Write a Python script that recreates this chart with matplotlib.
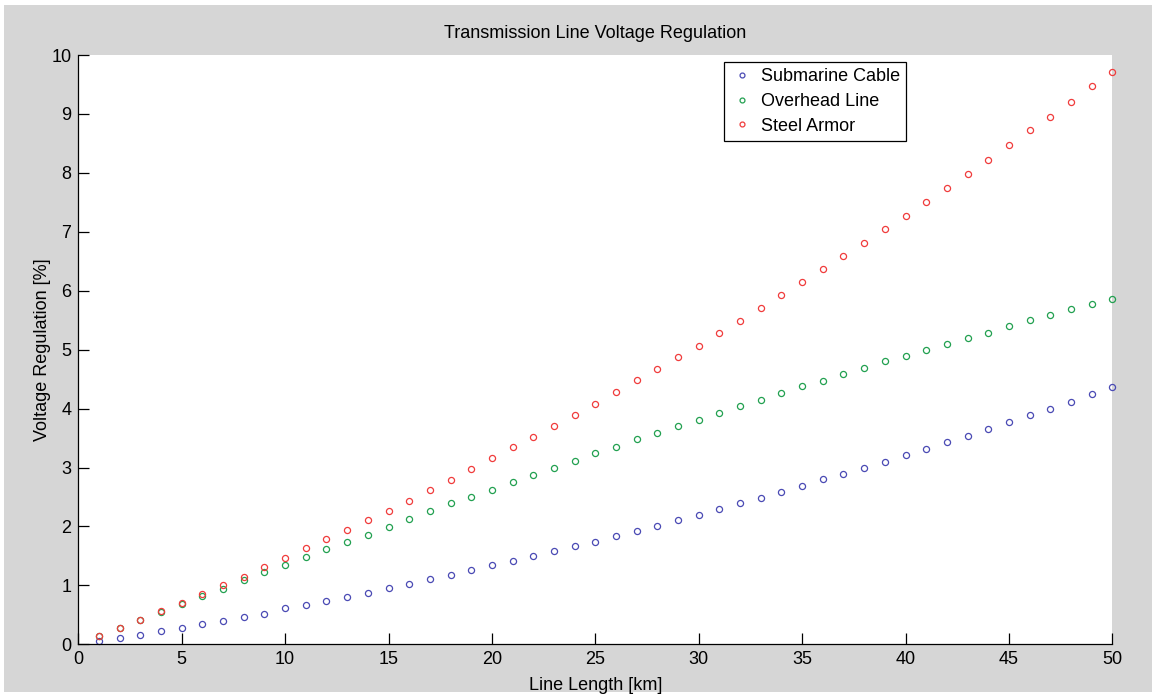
import matplotlib
matplotlib.use("Agg")
import matplotlib.pyplot as plt
from matplotlib.patches import Rectangle

# Line length in km
length_km = list(range(1, 51))

# Voltage regulation [%] per cable type
submarine_cable = [
    0.05, 0.10, 0.165, 0.23, 0.27, 0.34, 0.40, 0.47, 0.52, 0.61,
    0.67, 0.73, 0.81, 0.87, 0.95, 1.02, 1.10, 1.18, 1.26, 1.34,
    1.42, 1.50, 1.58, 1.66, 1.74, 1.83, 1.93, 2.01, 2.11, 2.20,
    2.29, 2.39, 2.48, 2.59, 2.69, 2.80, 2.89, 3.00, 3.10, 3.21,
    3.31, 3.43, 3.54, 3.65, 3.77, 3.89, 4.00, 4.12, 4.24, 4.37,
]
overhead_line = [
    0.14, 0.28, 0.41, 0.55, 0.68, 0.82, 0.94, 1.09, 1.22, 1.35,
    1.48, 1.61, 1.74, 1.86, 1.99, 2.13, 2.26, 2.39, 2.50, 2.62,
    2.75, 2.87, 3.00, 3.11, 3.24, 3.35, 3.48, 3.59, 3.70, 3.81,
    3.93, 4.04, 4.15, 4.27, 4.38, 4.47, 4.59, 4.69, 4.81, 4.90,
    5.00, 5.10, 5.20, 5.29, 5.40, 5.50, 5.59, 5.69, 5.77, 5.86,
]
steel_armor = [
    0.14, 0.28, 0.42, 0.56, 0.70, 0.85, 1.00, 1.15, 1.31, 1.47,
    1.63, 1.78, 1.94, 2.11, 2.27, 2.44, 2.61, 2.79, 2.98, 3.16,
    3.34, 3.52, 3.70, 3.89, 4.08, 4.28, 4.48, 4.68, 4.87, 5.07,
    5.29, 5.49, 5.70, 5.93, 6.15, 6.37, 6.59, 6.81, 7.04, 7.27,
    7.50, 7.74, 7.98, 8.21, 8.47, 8.72, 8.95, 9.21, 9.47, 9.72,
]

series_names = ["Submarine Cable", "Overhead Line", "Steel Armor"]
series_colors = ["#4a4ab4", "#22a050", "#f03c3c"]
x_ticks = list(range(0, 51, 5))
y_ticks = list(range(0, 11))

plt.rcParams["font.family"] = ["Liberation Sans", "DejaVu Sans"]

W, H = 1152, 697
fig = plt.figure(figsize=(W / 100, H / 100), dpi=100, facecolor="white")
# grey window background with a thin white margin
fig.patches.append(Rectangle((4 / W, 5 / H), 1 - 4 / W, 1 - 10 / H,
                             transform=fig.transFigure, facecolor="#d6d6d6",
                             edgecolor="none", zorder=-10))

left, right = 78.3 / W, 1112.3 / W
bottom, top = 1 - 644.3 / H, 1 - 55 / H
ax = fig.add_axes([left, bottom, right - left, top - bottom])
ax.set_facecolor("white")

for vals, name, col in zip([submarine_cable, overhead_line, steel_armor],
                           series_names, series_colors):
    ax.plot(length_km, vals, linestyle="none", marker="o", markersize=4.4,
            markerfacecolor="none", markeredgecolor=col, markeredgewidth=0.9,
            label=name, clip_on=False)

ax.set_xlim(0, 50)
ax.set_ylim(0, 10)
ax.set_xticks(x_ticks)
ax.set_yticks(y_ticks)
ax.tick_params(direction="in", length=8, width=0.9, labelsize=13,
               colors="black", pad=5)
for s in ("top", "right"):
    ax.spines[s].set_visible(False)
for s in ("left", "bottom"):
    ax.spines[s].set_color("black")
    ax.spines[s].set_linewidth(0.9)

ax.set_title("Transmission Line Voltage Regulation", fontsize=13,
             family=["Liberation Sans Narrow", "Liberation Sans"], pad=12)
ax.set_xlabel("Line Length [km]", fontsize=13, labelpad=6)
ax.set_ylabel("Voltage Regulation [%]", fontsize=13, labelpad=0)

leg = ax.legend(loc="upper right", bbox_to_anchor=(0.8005, 0.988),
                borderaxespad=0, fontsize=13, frameon=True, fancybox=False,
                framealpha=1, edgecolor="black", handlelength=1.2,
                handletextpad=0.45, borderpad=0.35, labelspacing=0.42,
                markerscale=0.8)
leg.get_frame().set_linewidth(0.9)

fig.savefig("out.png", dpi=100, facecolor=fig.get_facecolor())
